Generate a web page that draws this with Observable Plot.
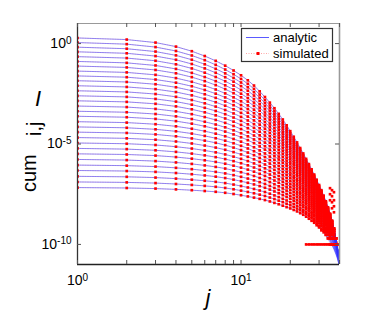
<!DOCTYPE html>
<html><head><meta charset="utf-8">
<script src="https://cdn.jsdelivr.net/npm/d3@7"></script>
<script src="https://cdn.jsdelivr.net/npm/@observablehq/plot@0.6"></script>
<style>
html,body{margin:0;padding:0;background:#fff;}
#chart{width:374px;height:312px;}
</style></head><body><div id="chart"></div>
<script>
// ---- data (log10 levels) ----
const jValues = [1,2,3,4,5,6,7,8,9,10,11,12,13,14,15,16,17,18,19,20,21,22,23,24,25,26,27,28,29,30,31,32,33,34,35,36,37,38,39,40];
// log10 of each curve at j = 1 (top to bottom)
const startLog = [0.28,0.05,-0.18,-0.41,-0.65,-0.89,-1.12,-1.37,-1.61,-1.85,-2.10,-2.35,-2.60,-2.85,-3.11,-3.37,-3.62,-3.89,-4.15,-4.41,-4.68,-4.95,-5.22,-5.49,-5.77,-6.05,-6.32,-6.61,-6.89,-7.17];
// decades fallen since j = 1
const topDrop = [0,0.08,0.23,0.43,0.66,0.90,1.14,1.38,1.62,1.86,2.11,2.37,2.66,2.94,3.22,3.50,3.78,4.06,4.35,4.64,4.92,5.20,5.48,5.75,6.02,6.28,6.54,6.80,7.06,7.32,7.58,7.85,8.13,8.43,8.75,9.10,9.50,9.97,10.55,11.4];
// decades fallen since j = 1
const bottomDrop = [0,0.02,0.05,0.09,0.13,0.17,0.21,0.26,0.32,0.38,0.44,0.50,0.56,0.62,0.69,0.76,0.83,0.90,0.97,1.04,1.11,1.19,1.27,1.36,1.45,1.55,1.65,1.76,1.88,2.00,2.12,2.25,2.39,2.54,2.70,2.88,3.08,3.31,3.58,3.95];
// how close each curve's shape is to the bottom curve (0 = top shape, 1 = bottom shape)
const curveWeight = [0,0.034,0.069,0.103,0.138,0.172,0.207,0.241,0.276,0.310,0.345,0.379,0.414,0.448,0.483,0.517,0.552,0.586,0.621,0.655,0.690,0.724,0.759,0.793,0.828,0.862,0.897,0.931,0.966,1];
// simulated counts resolve down to this level
const simResolution = 1e-10;
// extra simulated points that stray from the analytic curves (read near the lower right)
const strayJ   = [25,26,27,28,29,30,31,32,33,34,35,36,37, 35,35,35,36,36,36,36,37,37,37,37, 33,34,35,36,37,36,37,35];
const strayLog = [-10,-10,-10,-10,-10,-10,-10,-10,-10,-10,-10,-10,-10, -7.2,-7.5,-7.8,-7.3,-7.6,-7.9,-8.2,-7.4,-7.8,-8.1,-8.4, -8.3,-8.4,-8.7,-9.0,-9.2,-9.24,-9.65,-9.65];

const xDomain = [1, 40];
const yDomain = [1e-11, 10];
const xMajorTicks = [1, 10];
const xMinorTicks = [2,3,4,5,6,7,8,9,20,30,40];
const yMajorTicks = [1, 1e-5, 1e-10];
const legendLabels = ["analytic", "simulated"];

// ---- build tables ----
const analytic = [];
const simulated = [];
startLog.forEach((s, c) => {
  jValues.forEach((j, k) => {
    const d = topDrop[k] * (1 - curveWeight[c]) + bottomDrop[k] * curveWeight[c];
    const v = Math.pow(10, s - d);
    analytic.push({curve: c, j, value: v});
    const q = Math.round(v / simResolution) * simResolution;
    simulated.push({curve: c, j, value: q > 0 ? q : NaN});
  });
});
const floorRun = strayJ.map((j, i) => ({j, value: Math.pow(10, strayLog[i]), run: strayLog[i] === -10 ? "floor" : "i" + i}));

const W = 374, H = 312, mL = 77, mR = 35, mT = 23, mB = 48;
const innerH = H - mT - mB, innerW = W - mL - mR;
const expFmt = d => "10^" + Math.round(Math.log10(d));
const FONT = "'Liberation Sans', Arial, Helvetica, sans-serif";

const chart = Plot.plot({
  width: W, height: H,
  marginLeft: mL, marginRight: mR, marginTop: mT, marginBottom: mB,
  style: {fontFamily: FONT, fontSize: "14px", background: "#fff", color: "#000"},
  x: {type: "log", domain: xDomain},
  y: {type: "log", domain: yDomain},
  marks: [
    Plot.line(simulated, {x: "j", y: "value", z: "curve", stroke: "#ff0000", strokeWidth: 0.6, strokeDasharray: "1,1.5", strokeOpacity: 0.3, clip: true}),
    Plot.line(analytic, {x: "j", y: "value", z: "curve", stroke: "#3030ff", strokeWidth: 0.7, strokeOpacity: 0.75, clip: true}),
    Plot.dot(simulated, {x: "j", y: "value", symbol: "square", r: 1.5, fill: "#ff0000", stroke: "none", clip: true}),
    Plot.line(floorRun, {x: "j", y: "value", z: "run", stroke: "#ff0000", strokeWidth: 1.5, clip: true}),
    Plot.dot(floorRun, {x: "j", y: "value", symbol: "square", r: 1.5, fill: "#ff0000", stroke: "none", clip: true}),
    // frame
    Plot.ruleX([xDomain[1]], {stroke: "#999", strokeWidth: 1.6}),
    Plot.ruleY([yDomain[1]], {stroke: "#999", strokeWidth: 1.2}),
    Plot.ruleX([xDomain[0]], {stroke: "#333", strokeWidth: 1.3}),
    Plot.ruleY([yDomain[0]], {stroke: "#222", strokeWidth: 1.5}),
    // inward ticks
    Plot.tickX(xMajorTicks.concat(xMinorTicks), {x: d => d, stroke: "#555", insetTop: innerH - 4}),
    Plot.tickX(xMajorTicks.concat(xMinorTicks), {x: d => d, stroke: "#555", insetBottom: innerH - 4}),
    Plot.tickY(yMajorTicks, {y: d => d, stroke: "#555", insetRight: innerW - 4}),
    Plot.tickY(yMajorTicks, {y: d => d, stroke: "#555", insetLeft: innerW - 4}),
    Plot.axisX({ticks: xMajorTicks, tickFormat: expFmt, tickSize: 0, tickPadding: 11, label: null}),
    Plot.axisY({ticks: yMajorTicks, tickFormat: expFmt, tickSize: 0, tickPadding: 6, label: null})
  ]
});
document.getElementById("chart").appendChild(chart);

const svg = d3.select(chart);
// superscript exponents
svg.selectAll("g[aria-label$='tick label'] text").each(function() {
  const t = d3.select(this);
  const s = t.text();
  if (!s.includes("^")) return;
  const [base, ex] = s.split("^");
  t.text(null);
  t.append("tspan").text(base);
  t.append("tspan").attr("dy", "-0.45em").attr("font-size", "10px").text(ex);
});

// axis labels
svg.append("text").attr("x", mL + innerW / 2).attr("y", 305)
  .attr("text-anchor", "middle").attr("font-size", 22).attr("font-style", "italic")
  .attr("font-family", FONT).text("j");
const yl = svg.append("g").attr("font-family", FONT).attr("text-anchor", "start");
yl.append("text").attr("x", 38).attr("y", 106).attr("text-anchor", "middle")
  .attr("font-size", 22).attr("font-style", "italic").text("I");
yl.append("text").attr("transform", "translate(36,192) rotate(-90)")
  .attr("font-size", 20).text("cum");
yl.append("text").attr("transform", "translate(41,136) rotate(-90)")
  .attr("font-size", 20).text("i,j");

// legend
const lg = svg.append("g").attr("font-family", FONT).attr("font-size", 13).attr("text-anchor", "start");
lg.append("rect").attr("x", 241.5).attr("y", 28.5).attr("width", 91).attr("height", 33)
  .attr("fill", "#fff").attr("stroke", "#333").attr("stroke-width", 1.2);
lg.append("line").attr("x1", 246).attr("x2", 269).attr("y1", 37.5).attr("y2", 37.5)
  .attr("stroke", "#3030ff").attr("stroke-width", 0.8);
lg.append("text").attr("x", 273).attr("y", 42).text(legendLabels[0]);
lg.append("line").attr("x1", 246).attr("x2", 269).attr("y1", 53.5).attr("y2", 53.5)
  .attr("stroke", "#ff0000").attr("stroke-width", 0.7).attr("stroke-dasharray", "1,1.5").attr("stroke-opacity", 0.5);
lg.append("rect").attr("x", 256.5).attr("y", 52).attr("width", 3).attr("height", 3).attr("fill", "#ff0000");
lg.append("text").attr("x", 273).attr("y", 58).text(legendLabels[1]);
</script></body></html>
